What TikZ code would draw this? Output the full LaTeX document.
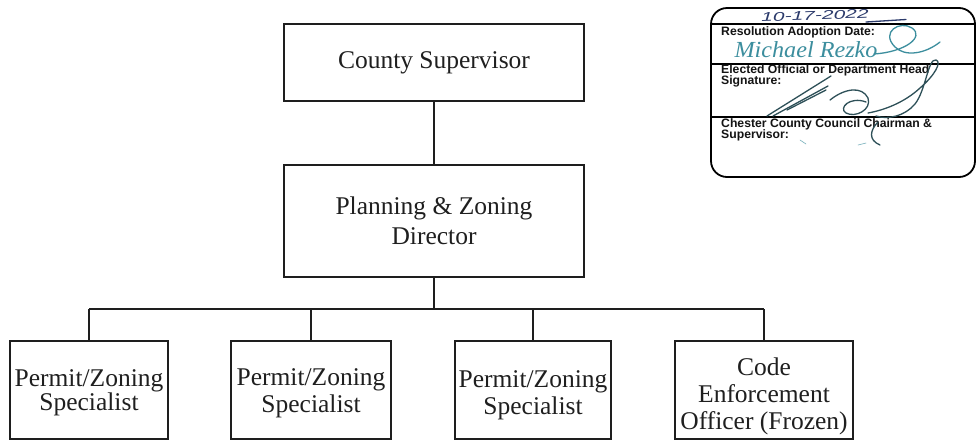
\documentclass[tikz,border=0pt]{standalone}
\usepackage{fontspec}
\setmainfont{Liberation Serif}
\newfontfamily\formfont{Liberation Sans}
\usetikzlibrary{calc}

\definecolor{inkblue}{HTML}{2B3A6B}
\definecolor{inkteal}{HTML}{3C8E9E}
\definecolor{inkdark}{HTML}{2E5058}
\definecolor{rule}{HTML}{1E1E1E}

\begin{document}
\begin{tikzpicture}[x=1pt,y=-1pt,
  orgbox/.style={draw=rule, line width=1.3pt, inner sep=0pt, align=center,
    font=\fontsize{25.5}{30}\selectfont, text=black!88},
  orgtext/.style={inner sep=0pt, align=center, text=black!88,
    font=\fontsize{25.5}{#1}\selectfont},
  orgtext/.default=27,
  link/.style={draw=rule, line width=1.3pt},
  formline/.style={draw=black, line width=1.5pt},
  formtext/.style={inner sep=0pt, anchor=base west, text=black!92,
    font=\formfont\bfseries\fontsize{12.2}{12}\selectfont},
  pen/.style={line width=1.3pt, line cap=round, line join=round}]

\clip (0,0) rectangle (976,440);
\fill[white] (0,0) rectangle (976,440);

% ---- chain of command ----
\node[orgbox, minimum width=300, minimum height=77] (sup) at (434,62.5) {County Supervisor};
\node[orgbox, minimum width=300, minimum height=112] (dir) at (434,221) {Planning \& Zoning\\Director};

\node[orgbox, minimum width=158, minimum height=98] (b1) at (89,390) {};
\node[orgbox, minimum width=160, minimum height=98] (b2) at (311,390) {};
\node[orgbox, minimum width=156, minimum height=98] (b3) at (533,390) {};
\node[orgbox, minimum width=178, minimum height=98] (b4) at (764,390) {};

\node[orgtext=24] (t1) at ($(b1.center)+(0,3)$) {Permit/Zoning\\Specialist};
\node[orgtext] (t2) at ($(b2.center)+(0,3)$) {Permit/Zoning\\Specialist};
\node[orgtext] (t3) at ($(b3.center)+(0,5)$) {Permit/Zoning\\Specialist};
\node[orgtext] (t4) at ($(b4.center)+(0,6)$) {Code\\Enforcement\\Officer (Frozen)};

\coordinate (bus) at (434,309);
\draw[link] (sup.south) -- (dir.north);
\draw[link] (dir.south) -- (bus);
\draw[link] (b1.north |- bus) -- (b4.north |- bus);
\foreach \b in {b1,b2,b3,b4}
  \draw[link] (\b.north) -- (\b.north |- bus);

% ---- approval block ----
\node[draw=black, line width=1.8pt, rounded corners=16, minimum width=264,
  minimum height=169, inner sep=0pt] (stamp) at (843,92.5) {};
\draw[formline] (711,24) -- (975,24);
\draw[formline] (711,64) -- (975,64);
\draw[formline] (711,117) -- (975,117);

\node[formtext] (f1) at (721,35.5) {Resolution Adoption Date:};
\node[formtext] (f2) at (721,73) {Elected Official or Department Head};
\node[formtext] (f3) at (721,84) {Signature:};
\node[formtext] (f4) at (721,127.5) {Chester County Council Chairman \&};
\node[formtext] (f5) at (721,138.5) {Supervisor:};

% handwritten date
\node[inner sep=0pt, text=inkblue, font=\formfont\itshape\fontsize{14}{14}\selectfont,
  rotate=2] (date) at (815,15.5) {\scalebox{1.5}[0.9]{10-17-2022}};
\draw[pen, inkblue] (866,22) -- (906,19.5);

% first signature
\node[inner sep=0pt, text=inkteal, font=\itshape\fontsize{23}{23}\selectfont]
  (sig1) at (806,50) {\scalebox{1.05}[1.0]{Michael Rezko}};
\draw[pen, inkteal] (874,54) .. controls (905,52) and (925,37) .. (912,28)
  .. controls (900,20) and (880,32) .. (895,47)
  .. controls (905,57) and (925,54) .. (940,42);

% second signature
\draw[pen, inkdark] (767,116) -- (831,76);
\draw[pen, inkdark] (773,116) -- (828,86);
\draw[pen, inkdark] (787,110) -- (826,90);
\draw[pen, inkdark] (830,100) .. controls (845,88) and (862,86) .. (868,98)
  .. controls (872,110) and (855,118) .. (846,113)
  .. controls (838,108) and (850,96) .. (866,102);
\draw[pen, inkdark] (868,113) .. controls (885,110) and (905,102) .. (920,88)
  .. controls (935,75) and (942,62) .. (936,60)
  .. controls (928,58) and (926,90) .. (915,104)
  .. controls (905,116) and (888,120) .. (876,116);
\draw[pen, inkdark] (878,122) .. controls (870,130) and (868,140) .. (880,145);
\draw[pen, inkteal!70, line width=0.6pt] (800,140) -- (806,144);
\draw[pen, inkteal!70, line width=0.6pt] (858,145) -- (866,143);
\end{tikzpicture}
\end{document}
